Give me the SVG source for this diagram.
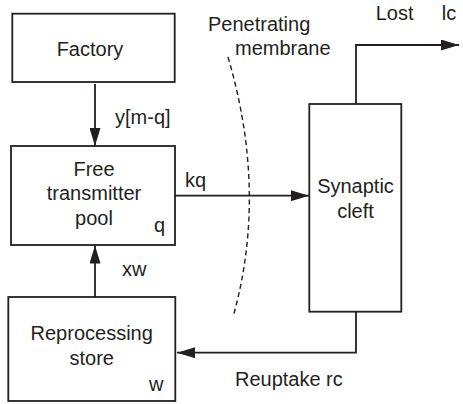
<svg xmlns="http://www.w3.org/2000/svg" width="463" height="404" viewBox="0 0 463 404">
<defs>
<style>
.box{fill:#fff;stroke:#231f20;stroke-width:1.8}
.ln{fill:none;stroke:#231f20;stroke-width:1.8}
.dash{fill:none;stroke:#231f20;stroke-width:1.4;stroke-dasharray:5 3.5}
text{font-family:"Liberation Sans",Arial,sans-serif;font-size:20px;fill:#231f20}
.c{text-anchor:middle}
</style>
<marker id="ah" viewBox="0 0 18 11" refX="18" refY="5.5" markerWidth="18" markerHeight="11" markerUnits="userSpaceOnUse" orient="auto">
<path d="M0,0 L18,5.5 L0,11 z" fill="#231f20"/>
</marker>
</defs>
<rect width="463" height="404" fill="#fff"/>
<g id="connectors">
<line class="ln" x1="95" y1="84" x2="95" y2="146" marker-end="url(#ah)"/>
<line class="ln" x1="175" y1="195.7" x2="309" y2="195.7" marker-end="url(#ah)"/>
<line class="ln" x1="95" y1="297" x2="95" y2="245.5" marker-end="url(#ah)"/>
<polyline class="ln" points="356,104 356,45 459,45" marker-end="url(#ah)"/>
<polyline class="ln" points="356,312 356,352.7 177,352.7" marker-end="url(#ah)"/>
<text x="115" y="124">y[m-q]</text>
<text x="185" y="187">kq</text>
<text x="122" y="276">xw</text>
<text x="375.7" y="20">Lost</text>
<text x="441.7" y="20">lc</text>
<text x="235" y="385.7">Reuptake</text>
<text x="326" y="385.7">rc</text>
</g>
<g id="membrane">
<path class="dash" d="M228,57 Q268,193 233,317"/>
<text x="208" y="31">Penetrating</text>
<text x="235" y="54.5">membrane</text>
</g>
<g id="factory">
<rect class="box" x="12.3" y="13.7" width="162.4" height="68.3"/>
<text class="c" x="90" y="56">Factory</text>
</g>
<g id="pool">
<rect class="box" x="11" y="146" width="164" height="99"/>
<text class="c" x="94" y="175.5">Free</text>
<text class="c" x="94" y="200">transmitter</text>
<text class="c" x="94" y="225">pool</text>
<text x="154" y="232">q</text>
</g>
<g id="cleft">
<rect class="box" x="309.3" y="104" width="92" height="207.7"/>
<text class="c" x="355.5" y="193.3">Synaptic</text>
<text class="c" x="355.5" y="218">cleft</text>
</g>
<g id="store">
<rect class="box" x="8.3" y="297" width="167" height="104"/>
<text class="c" x="91.7" y="340">Reprocessing</text>
<text class="c" x="91.7" y="365">store</text>
<text x="149" y="390.7">w</text>
</g>
</svg>
